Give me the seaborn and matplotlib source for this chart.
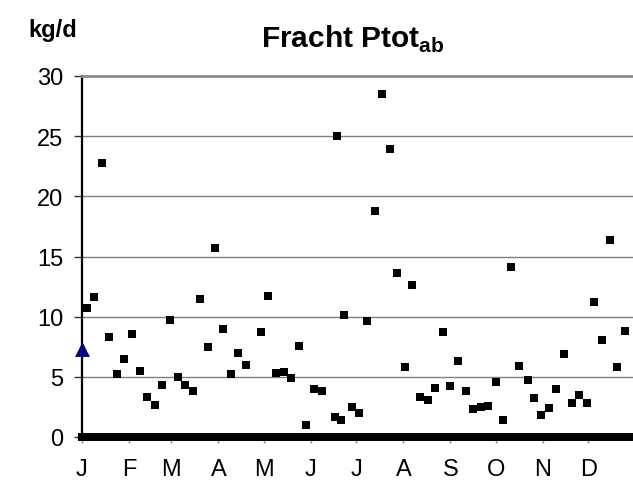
import numpy as np
import pandas as pd
import matplotlib
matplotlib.use("Agg")
import matplotlib.pyplot as plt
import seaborn as sns

# measurement days (day of year, 0 = 1 Jan) and loads in kg/d
meas_days = [3, 8, 13, 18, 23, 28, 33, 38, 43, 48, 53, 58, 63, 68, 73, 78, 83, 88,
             93, 98, 103, 108, 118, 123, 128, 133, 138, 143, 148, 153, 158,
             167, 168, 171, 173, 178, 183, 188, 193, 198, 203, 208, 213, 218,
             223, 228, 233, 238, 243, 248, 253, 258, 263, 268, 273, 278, 283,
             288, 294, 298, 303, 308, 313, 318, 323, 328, 333, 338, 343, 348,
             353, 358]
meas_vals = [10.7, 11.6, 22.8, 8.3, 5.2, 6.5, 8.6, 5.5, 3.3, 2.7, 4.3, 9.7, 5.0, 4.3,
             3.8, 11.5, 7.5, 15.7, 9.0, 5.2, 7.0, 6.0, 8.7, 11.7, 5.3, 5.4, 4.9,
             7.6, 1.0, 4.0, 3.85, 1.7, 25.0, 1.45, 10.1, 2.5, 2.0, 9.6, 18.8, 28.5,
             23.9, 13.6, 5.8, 12.6, 3.3, 3.1, 4.1, 8.7, 4.2, 6.3, 3.8, 2.3, 2.5,
             2.6, 4.6, 1.4, 14.1, 5.9, 4.7, 3.2, 1.8, 2.4, 4.0, 6.9, 2.8, 3.5, 2.8,
             11.25, 8.1, 16.4, 5.8, 8.8]
# days without a measurement are shown as 0 kg/d
year_days = list(range(0, 366))

limit_day = [0]
limit_val = [7.3]

month_starts = [0, 31, 59, 90, 120, 151, 181, 212, 243, 273, 304, 334]
month_labels = ["J", "F", "M", "A", "M", "J", "J", "A", "S", "O", "N", "D"]
y_ticks = [0, 5, 10, 15, 20, 25, 30]

sns.set_theme(style="white")
plt.rcParams["font.family"] = ["Liberation Sans", "DejaVu Sans"]
plt.rcParams["mathtext.fontset"] = "custom"
plt.rcParams["mathtext.rm"] = "Liberation Sans"
plt.rcParams["mathtext.bf"] = "Liberation Sans:bold"
plt.rcParams["text.color"] = "black"
plt.rcParams["xtick.labelcolor"] = "black"
plt.rcParams["ytick.labelcolor"] = "black"

daily = pd.Series(0.0, index=year_days)
daily.loc[meas_days] = meas_vals
df = pd.DataFrame({"day": daily.index, "val": daily.values})
dlim = pd.DataFrame({"day": limit_day, "val": limit_val})

fig = plt.figure(figsize=(6.33, 4.81), dpi=100)
ax = fig.add_axes([82 / 633, 43 / 481, 553.3 / 633, 361 / 481])

for yv in y_ticks[1:-1]:
    ax.axhline(yv, color="#7f7f7f", lw=1.0, zorder=1)

sns.scatterplot(data=df, x="day", y="val", marker="s", s=27, color="black",
                linewidth=0, ax=ax, zorder=3, clip_on=False, legend=False)
sns.scatterplot(data=dlim, x="day", y="val", marker="^", s=115, color="#000080",
                linewidth=0, ax=ax, zorder=4, clip_on=False, legend=False)

ax.set_xlim(0, 365)
ax.set_ylim(0, 30)
ax.set_xticks(month_starts)
ax.set_xticklabels(month_labels)
ax.set_yticks(y_ticks)
ax.set_xlabel("")
ax.set_ylabel("")

ax.spines["right"].set_visible(False)
ax.spines["top"].set_color("#8a8a8a")
ax.spines["top"].set_linewidth(2.0)
ax.spines["left"].set_color("black")
ax.spines["left"].set_linewidth(1.6)
ax.spines["bottom"].set_color("black")
ax.spines["bottom"].set_linewidth(1.5)

ax.tick_params(axis="y", direction="out", length=5.5, width=1.0, color="#333333",
               labelsize=17, pad=8, left=True, labelcolor="black")
ax.tick_params(axis="x", direction="out", length=4, width=1.0, color="#888888",
               labelsize=17, pad=11, bottom=True, labelcolor="black")

fig.text(28 / 633, 1 - 36.7 / 481, "kg/d", fontsize=17, fontweight="bold",
         ha="left", va="baseline", color="black")
fig.text(353 / 633, 1 - 48.3 / 481, r"Fracht Ptot$_{\mathbf{ab}}$", fontsize=21.5,
         fontweight="bold", ha="center", va="baseline", color="black")

fig.savefig("out.png", dpi=100)
